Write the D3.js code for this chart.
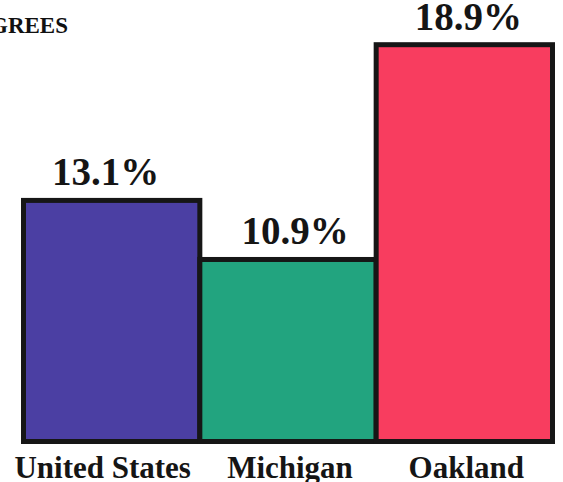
<!DOCTYPE html>
<html>
<head>
<meta charset="utf-8">
<script src="https://cdn.jsdelivr.net/npm/d3@7"></script>
</head>
<body style="margin:0;background:#fff">
<svg id="chart" width="563" height="482" style="display:block"></svg>
<script>
const categories = ["United States", "Michigan", "Oakland"];
const values = [13.1, 10.9, 18.9];
const valueLabels = ["13.1%", "10.9%", "18.9%"];
const barColors = ["#4b3fa3", "#22a47f", "#f83d5f"];
const titleText = "DEGREES";

const svg = d3.select("#chart");
const FONT = '"Liberation Serif"';

const x = d3.scaleBand().domain(categories).range([23.5, 552.5]).padding(0);
const y = d3.scaleLinear().domain([4.12, 18.9]).range([441.5, 44.7]);

function styleText(sel, size) {
  sel.style("font-family", FONT)
    .style("font-weight", "bold")
    .style("font-size", size + "px");
}

// title fragment (cut off at left edge, as in the reference)
svg.append("text")
  .attr("x", 68).attr("y", 33)
  .attr("text-anchor", "end")
  .attr("fill", "#111")
  .text(titleText)
  .call(styleText, 23);

const g = svg.append("g");
g.selectAll("rect")
  .data(values)
  .join("rect")
  .attr("x", (d, i) => x(categories[i]))
  .attr("y", d => y(d))
  .attr("width", x.bandwidth())
  .attr("height", d => y.range()[0] - y(d))
  .attr("fill", (d, i) => barColors[i])
  .attr("stroke", "#161616")
  .attr("stroke-width", 5);

g.selectAll("text.val")
  .data(values)
  .join("text")
  .attr("class", "val")
  .attr("x", (d, i) => x(categories[i]) + x.bandwidth() / 2 + [-6, 7, 4][i])
  .attr("y", d => y(d) - 15)
  .attr("text-anchor", "middle")
  .attr("fill", "#151515")
  .text((d, i) => valueLabels[i])
  .call(styleText, 39);

g.selectAll("text.cat")
  .data(categories)
  .join("text")
  .attr("class", "cat")
  .attr("x", (d, i) => x(d) + x.bandwidth() / 2 + [-9, 2, 2][i])
  .attr("y", 478)
  .attr("text-anchor", "middle")
  .attr("fill", "#151515")
  .text(d => d)
  .call(styleText, 31);
</script>
</body>
</html>
